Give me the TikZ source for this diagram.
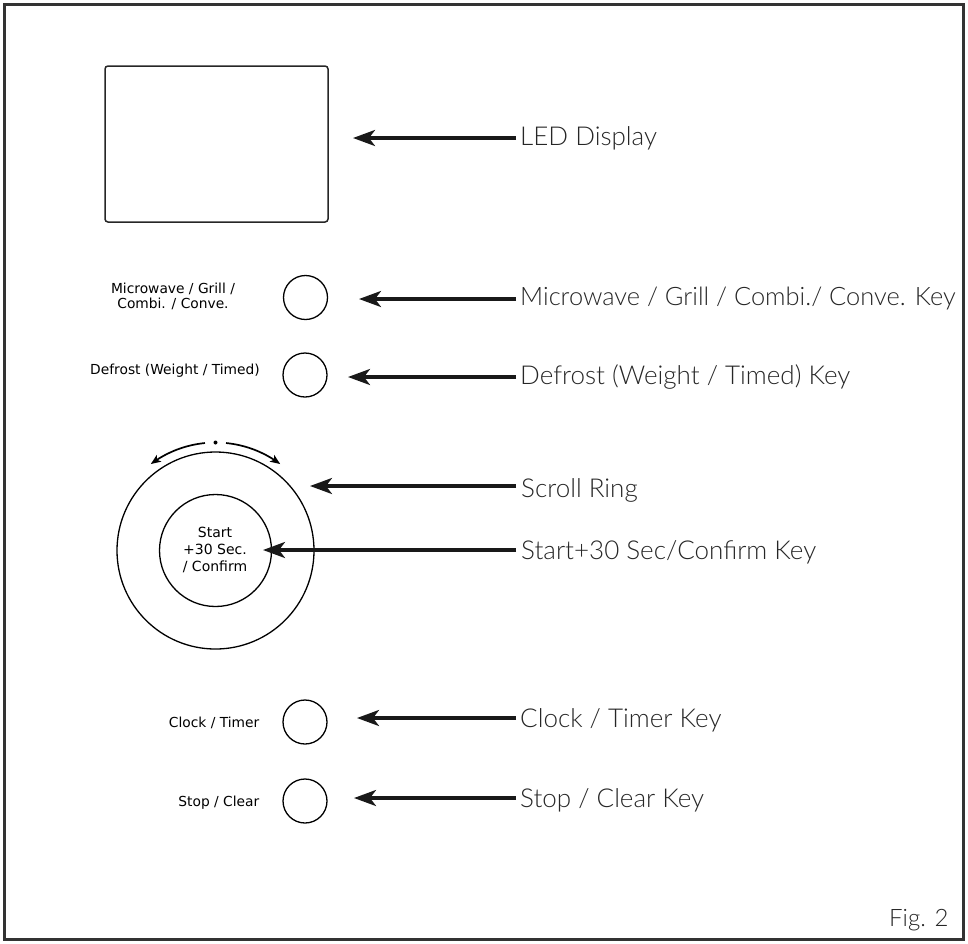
\documentclass[tikz,border=0pt]{standalone}
\usepackage{fontspec}
\usetikzlibrary{arrows.meta,bending,calc}
\IfFontExistsTF{Lato Light}{\newfontfamily\bigfont{Lato Light}}{\newfontfamily\bigfont{Liberation Sans}}
\newfontfamily\smallfont{DejaVu Sans}
\begin{document}
\begin{tikzpicture}[x=1pt,y=1pt,
  frame/.style={draw=black!80, line width=3pt},
  display/.style={draw=black!85, line width=1.5pt, rounded corners=3pt, minimum width=223pt, minimum height=156pt, inner sep=0pt},
  keycirc/.style={circle, draw, line width=1.3pt, minimum size=44pt, inner sep=0pt},
  ringcirc/.style={circle, draw, line width=1.3pt, inner sep=0pt},
  bigl/.style={anchor=base west, inner sep=0pt, font=\bigfont\fontsize{26}{30}\selectfont, text=black!85},
  smalll/.style={inner sep=0pt, font=\smallfont\fontsize{13.8}{15}\selectfont, align=center},
  innerl/.style={inner sep=0pt, font=\smallfont\fontsize{14}{17}\selectfont, align=center},
  pointer/.style={draw=black!90, line width=3.3pt, -{Stealth[length=22pt,width=16pt,inset=6pt]}},
  turn/.style={draw=black, line width=1.7pt, -{Stealth[length=10pt,width=8pt,inset=2.5pt,flex]}}
]
\useasboundingbox (0,0) rectangle (968,-943);
\draw[frame] (4.5,-4.5) rectangle (963,-939.5);

% display
\node[display] (led) at (216.5,-144) {};

% keys
\node[keycirc] (mw) at (305.5,-297.5) {};
\node[keycirc] (df) at (305,-375) {};
\node[keycirc] (ck) at (305,-722) {};
\node[keycirc] (sc) at (305,-801) {};

% ring
\node[ringcirc, minimum size=197pt] (ring) at (215.5,-550.5) {};
\node[ringcirc, minimum size=112pt] (start) at (215.5,-550.5) {};
\node[innerl] (starttxt) at (215,-550) {Start\\+30 Sec.\\/ Confirm};
\fill (ring.center) ++(0,108) circle[radius=2pt] coordinate (dot);
\draw[turn] ($(ring.center)+(95.6:108)$) arc[start angle=95.6, end angle=126.8, radius=108pt];
\draw[turn] ($(ring.center)+(84.4:108)$) arc[start angle=84.4, end angle=53.2, radius=108pt];

% small labels
\node[smalll] (mwl) at (173,-296) {Microwave / Grill /\\Combi. / Conve.};
\node[smalll, anchor=east] (dfl) at (260,-371) {Defrost (Weight / Timed)};
\node[smalll, anchor=east] (ckl) at (259.5,-722.5) {Clock / Timer};
\node[smalll, anchor=east] (scl) at (259.5,-803) {Stop / Clear};

% big labels
\node[bigl] (ledl) at (520,-145.5) {LED Display};
\node[bigl, font=\bigfont\fontsize{25.4}{30}\selectfont] (mwk) at (520,-305) {Microwave / Grill / Combi./ Conve. Key};
\node[bigl] (dfk) at (520,-384) {Defrost (Weight / Timed) Key};
\node[bigl] (rgk) at (521,-497) {Scroll Ring};
\node[bigl] (stk) at (521,-559) {Start+30 Sec/Confirm Key};
\node[bigl] (ckk) at (520,-727) {Clock / Timer Key};
\node[bigl] (sck) at (520,-807) {Stop / Clear Key};
\node[bigl, font=\bigfont\fontsize{24}{28}\selectfont] (fig) at (889,-926) {Fig. 2};

% arrow coordinates
\coordinate (a1) at (516,-138);   \coordinate (b1) at (353,-138);
\coordinate (a2) at (516,-299);   \coordinate (b2) at (359,-299);
\coordinate (a3) at (516,-377);   \coordinate (b3) at (348,-377);
\coordinate (a4) at (516,-486);   \coordinate (b4) at (310,-486);
\coordinate (a5) at (516,-550);   \coordinate (b5) at (263,-550);
\coordinate (a6) at (516,-718);   \coordinate (b6) at (357,-718);
\coordinate (a7) at (516,-798);   \coordinate (b7) at (354,-798);
\draw[pointer] (a1) -- (b1);
\draw[pointer] (a2) -- (b2);
\draw[pointer] (a3) -- (b3);
\draw[pointer] (a4) -- (b4);
\draw[pointer] (a5) -- (b5);
\draw[pointer] (a6) -- (b6);
\draw[pointer] (a7) -- (b7);
\end{tikzpicture}
\end{document}
